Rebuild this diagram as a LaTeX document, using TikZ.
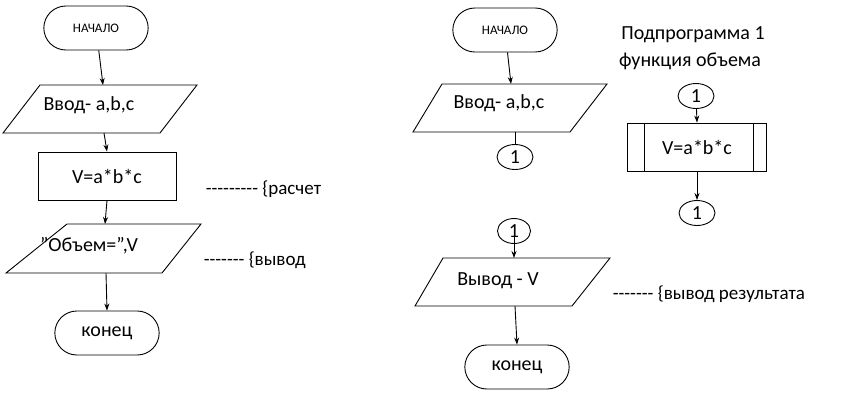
\documentclass[tikz,border=0pt]{standalone}
\usepackage{fontspec}
\setmainfont{Carlito}[Ligatures=ResetAll]
\usetikzlibrary{arrows.meta,shapes.misc,shapes.geometric}
\newcommand{\dsh}{-{}}
\begin{document}
\begin{tikzpicture}[x=1pt,y=-1pt,line width=0.9pt,
  term/.style={draw,rounded rectangle,minimum width=111pt,minimum height=44pt,font=\fontsize{20}{22}\selectfont},
  small/.style={font=\fontsize{13}{15}\selectfont},
  proc/.style={draw,minimum width=138pt,minimum height=48pt,font=\fontsize{20}{22}\selectfont},
  conn/.style={draw,ellipse,minimum width=36pt,minimum height=25pt,inner sep=0pt,font=\fontsize{20}{22}\selectfont},
  txt/.style={font=\fontsize{20}{22}\selectfont},
  note/.style={font=\fontsize{19}{21}\selectfont,anchor=west},
  arr/.style={-{Stealth[length=7pt,width=5pt]}}]
\useasboundingbox (0,0) rectangle (850,400);
% left column
\node[term,small] (s1) at (96,28) {НАЧАЛО};
\draw (40,85) -- (197,85) -- (160,133) -- (3,133) -- cycle;
\node[txt] (in1) at (89,105) {Ввод- a,b,c};
\coordinate (in1t) at (103,85); \coordinate (in1b) at (104,133);
\node[proc] (calc) at (107,176) {V=a*b*c};
\draw (67,224) -- (201,224) -- (162,273) -- (6,273) -- cycle;
\node[txt] (out1) at (89,246) {"Объем=",V};
\coordinate (out1t) at (105,224); \coordinate (out1b) at (106,273);
\node[term] (e1) at (107,333) {конец};
\draw[arr] (s1) -- (in1t);
\draw[arr] (in1b) -- (calc.north);
\draw[arr] (calc.south) -- (out1t);
\draw[arr] (out1b) -- (e1.north);
\node[note] (n1) at (202,189) {\dsh\dsh\dsh\dsh\dsh\dsh\dsh\dsh\dsh\ \{расчет};
\node[note] (n2) at (200,260) {\dsh\dsh\dsh\dsh\dsh\dsh\dsh\ \{вывод};
% right column
\node[term,small] (s2) at (505,30) {НАЧАЛО};
\draw (442,84) -- (607,84) -- (570,132) -- (413,132) -- cycle;
\node[txt] (in2) at (499,103) {Ввод- a,b,c};
\coordinate (in2b) at (515,132); \coordinate (in2t) at (511,84);
\node[conn] (c1) at (515,157) {1};
\draw[arr] (s2) -- (in2t);
\draw (in2b) -- (c1.north);
\node[txt] (t1) at (693,35) {Подпрограмма 1};
\node[txt] (t2) at (690,61) {функция объема};
\node[conn] (c2) at (696,96) {1};
\node[proc,minimum width=139pt] (sub) at (697,147) {V=a*b*c};
\draw ([xshift=17pt]sub.north west) -- ([xshift=17pt]sub.south west);
\draw ([xshift=-14pt]sub.north east) -- ([xshift=-14pt]sub.south east);
\node[conn] (c3) at (697,213) {1};
\draw[arr] (c2) -- (sub.north);
\draw[arr] (sub.south) -- (c3.north);
\node[conn,minimum width=33pt] (c4) at (514,231) {1};
\draw (443,258) -- (610,258) -- (572,306) -- (415,306) -- cycle;
\node[txt] (out2) at (498,281) {Вывод - V};
\coordinate (out2t) at (514,258); \coordinate (out2b) at (515,306);
\draw[arr] (c4.center) -- (out2t);
\node[term] (e2) at (517,367) {конец};
\draw[arr] (out2b) -- (e2.north);
\node[note] (n3) at (609,294) {\dsh\dsh\dsh\dsh\dsh\dsh\dsh\ \{вывод результата};
\end{tikzpicture}
\end{document}
